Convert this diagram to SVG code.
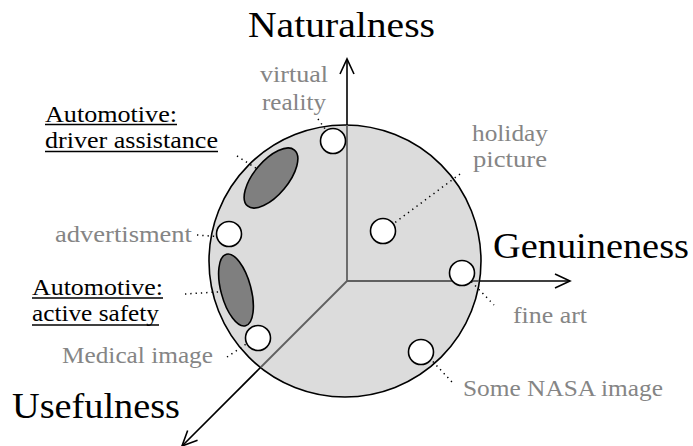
<svg xmlns="http://www.w3.org/2000/svg" width="693" height="446" viewBox="0 0 693 446">
<style>
.big{font-family:"Liberation Serif","Times New Roman",serif;font-size:35px;fill:#000}
.lbl{font-family:"Liberation Serif","Times New Roman",serif;font-size:23.5px;fill:#858585}
.auto{fill:#000}
.ul{stroke:#000;stroke-width:1.3}
.dot{fill:#fff;stroke:#000;stroke-width:1.6}
.blob{fill:#7f7f7f;stroke:#000;stroke-width:1.6}
.lead{stroke:#000;stroke-width:1.5;stroke-dasharray:1.3 4;fill:none}
.axin{stroke:#606060;stroke-width:1.8;fill:none}
.axout{stroke:#000;stroke-width:1.6;fill:none}
</style>
<defs>
<marker id="arr" viewBox="-17 -9 19 18" markerWidth="19" markerHeight="18" refX="0" refY="0" orient="auto" markerUnits="userSpaceOnUse">
<path d="M-15,-7 L0,0 L-15,7" fill="none" stroke="#000" stroke-width="1.6"/>
</marker>
</defs>
<rect width="693" height="446" fill="#fff"/>
<g id="space">
<circle cx="345" cy="261" r="136" fill="#dcdcdc" stroke="#000" stroke-width="1.6"/>
</g>
<g id="connectors">
<line class="axin" x1="347" y1="281" x2="347" y2="125"/>
<line class="axout" x1="347" y1="125" x2="347" y2="59" marker-end="url(#arr)"/>
<line class="axin" x1="347" y1="281" x2="479" y2="281"/>
<line class="axout" x1="479" y1="281" x2="570" y2="281" marker-end="url(#arr)"/>
<line class="axin" x1="347" y1="281" x2="260.5" y2="367.5"/>
<line class="axout" x1="260.5" y1="367.5" x2="182" y2="446" marker-end="url(#arr)"/>
<line class="lead" x1="318" y1="119" x2="333" y2="140"/>
<line class="lead" x1="237" y1="156" x2="268" y2="176"/>
<line class="lead" x1="460" y1="174" x2="385" y2="230"/>
<line class="lead" x1="197" y1="235" x2="222" y2="237"/>
<line class="lead" x1="185" y1="294" x2="233" y2="291"/>
<line class="lead" x1="227" y1="357" x2="252" y2="340"/>
<line class="lead" x1="464" y1="274" x2="494" y2="305"/>
<line class="lead" x1="422" y1="350" x2="452" y2="382"/>
</g>
<g id="axis-naturalness"><text class="big" x="248" y="37" textLength="187" lengthAdjust="spacingAndGlyphs">Naturalness</text></g>
<g id="axis-genuineness"><text class="big" x="493" y="258" textLength="196" lengthAdjust="spacingAndGlyphs">Genuineness</text></g>
<g id="axis-usefulness"><text class="big" x="12" y="418" textLength="168" lengthAdjust="spacingAndGlyphs">Usefulness</text></g>
<g id="virtual-reality">
<circle class="dot" cx="333" cy="141" r="12.5"/>
<text class="lbl" x="260" y="82" textLength="68" lengthAdjust="spacingAndGlyphs">virtual</text>
<text class="lbl" x="262" y="110" textLength="64" lengthAdjust="spacingAndGlyphs">reality</text>
</g>
<g id="driver-assistance">
<ellipse class="blob" cx="271" cy="178" rx="36.5" ry="17" transform="rotate(-50 271 178)"/>
<text class="lbl auto" x="45" y="122" textLength="132" lengthAdjust="spacingAndGlyphs">Automotive:</text>
<line class="ul" x1="45" y1="124.5" x2="177" y2="124.5"/>
<text class="lbl auto" x="45" y="148" textLength="173" lengthAdjust="spacingAndGlyphs">driver assistance</text>
<line class="ul" x1="45" y1="151.5" x2="218" y2="151.5"/>
</g>
<g id="holiday-picture">
<circle class="dot" cx="383" cy="231" r="12.5"/>
<text class="lbl" x="472" y="141" textLength="76" lengthAdjust="spacingAndGlyphs">holiday</text>
<text class="lbl" x="473" y="167" textLength="74" lengthAdjust="spacingAndGlyphs">picture</text>
</g>
<g id="advertisment">
<circle class="dot" cx="229" cy="234" r="12.5"/>
<text class="lbl" x="55" y="242" textLength="137" lengthAdjust="spacingAndGlyphs">advertisment</text>
</g>
<g id="active-safety">
<ellipse class="blob" cx="236" cy="290" rx="15" ry="37" transform="rotate(-15 236 290)"/>
<text class="lbl auto" x="32" y="295" textLength="131" lengthAdjust="spacingAndGlyphs">Automotive:</text>
<line class="ul" x1="32" y1="298" x2="163" y2="298"/>
<text class="lbl auto" x="32" y="321" textLength="127" lengthAdjust="spacingAndGlyphs">active safety</text>
<line class="ul" x1="32" y1="325" x2="159" y2="325"/>
</g>
<g id="medical-image">
<circle class="dot" cx="258" cy="338" r="12.5"/>
<text class="lbl" x="62" y="363" textLength="151" lengthAdjust="spacingAndGlyphs">Medical image</text>
</g>
<g id="fine-art">
<circle class="dot" cx="462" cy="273" r="12.5"/>
<text class="lbl" x="513" y="323" textLength="74" lengthAdjust="spacingAndGlyphs">fine art</text>
</g>
<g id="nasa-image">
<circle class="dot" cx="421" cy="352" r="12.5"/>
<text class="lbl" x="463" y="396" textLength="200" lengthAdjust="spacingAndGlyphs">Some NASA image</text>
</g>
</svg>
